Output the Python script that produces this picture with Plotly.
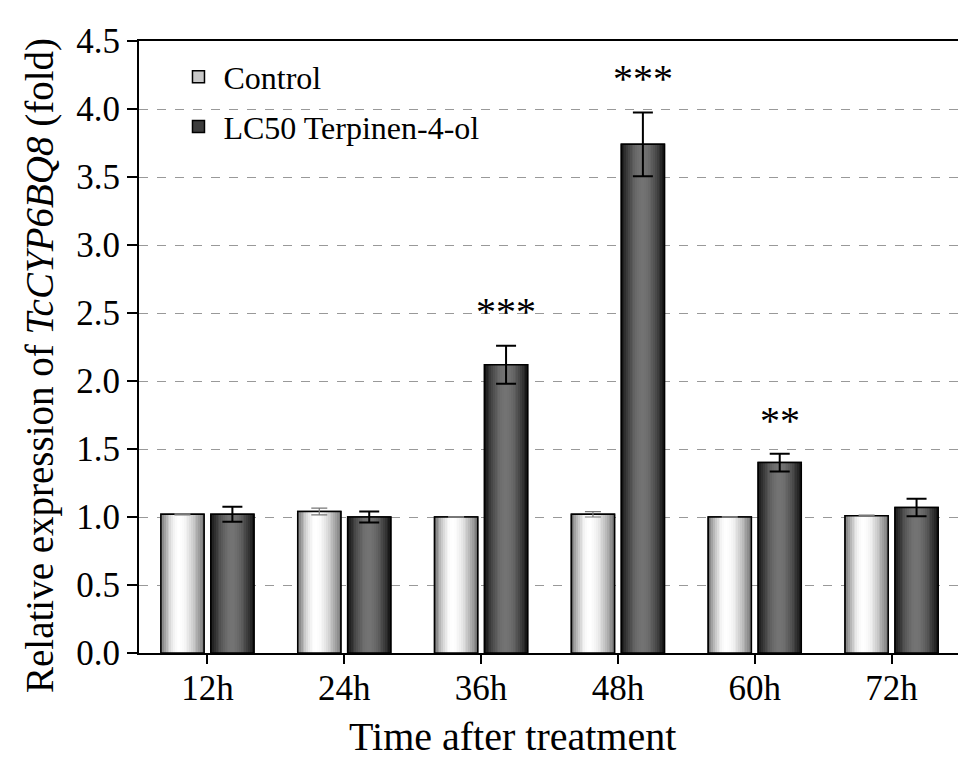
import math
import plotly.graph_objects as go

categories = ["12h", "24h", "36h", "48h", "60h", "72h"]
control_vals = [1.02, 1.04, 1.00, 1.02, 1.00, 1.01]
control_err = [0.005, 0.025, 0.003, 0.02, 0.003, 0.004]
treat_vals = [1.02, 1.00, 2.12, 3.74, 1.40, 1.07]
treat_err = [0.055, 0.04, 0.14, 0.235, 0.065, 0.065]
stars = ["", "", "***", "***", "**", ""]
y_ticks = [0.0, 0.5, 1.0, 1.5, 2.0, 2.5, 3.0, 3.5, 4.0, 4.5]

FONT = "Liberation Serif, Times New Roman, serif"
BAR_W = 0.315
OFF_C = -0.34
OFF_T = 0.025
N = 24

def grad(t, edge_l, peak, edge_r, p=0.42):
    if t <= p:
        s = t / p
        v = edge_l + (peak - edge_l) * math.sin(s * math.pi / 2)
    else:
        s = (t - p) / (1 - p)
        v = peak + (edge_r - peak) * (1 - math.cos(s * math.pi / 2))
    v = int(round(max(0, min(255, v))))
    return f"rgb({v},{v},{v})"

fig = go.Figure()

fig.add_trace(go.Bar(x=categories, y=control_vals, width=BAR_W, offset=OFF_C,
                     marker=dict(color="rgb(200,200,200)", line=dict(color="black", width=1.5)),
                     name="Control", showlegend=True, legendgroup="c"))
fig.add_trace(go.Bar(x=categories, y=treat_vals, width=BAR_W, offset=OFF_T,
                     marker=dict(color="rgb(60,60,60)", line=dict(color="black", width=1.5)),
                     name="LC50 Terpinen-4-ol", showlegend=True, legendgroup="t"))

sw = BAR_W / N
for i in range(N):
    t = (i + 0.5) / N
    fig.add_trace(go.Bar(x=categories, y=control_vals, width=sw * 1.08, offset=OFF_C + i * sw,
                         marker=dict(color=grad(t, 105, 255, 120), line=dict(width=0)),
                         showlegend=False, hoverinfo="skip"))
    fig.add_trace(go.Bar(x=categories, y=treat_vals, width=sw * 1.08, offset=OFF_T + i * sw,
                         marker=dict(color=grad(t, 15, 115, 20, p=0.5), line=dict(width=0)),
                         showlegend=False, hoverinfo="skip"))

fig.add_trace(go.Bar(x=categories, y=control_vals, width=BAR_W, offset=OFF_C,
                     marker=dict(color="rgba(0,0,0,0)", line=dict(color="black", width=1.5)),
                     error_y=dict(type="data", array=control_err, color="#777777", thickness=1.2, width=8),
                     showlegend=False, hoverinfo="skip"))
fig.add_trace(go.Bar(x=categories, y=treat_vals, width=BAR_W, offset=OFF_T,
                     marker=dict(color="rgba(0,0,0,0)", line=dict(color="black", width=1.5)),
                     error_y=dict(type="data", array=treat_err, color="black", thickness=2, width=10),
                     showlegend=False, hoverinfo="skip"))

for c, s, v, e in zip(categories, stars, treat_vals, treat_err):
    if s:
        fig.add_annotation(x=c, y=v + e + 0.27, text=s, showarrow=False, xref="x", yref="y",
                           xshift=(OFF_T + BAR_W / 2) * 137, yshift=-3,
                           font=dict(family=FONT, size=40, color="black"), yanchor="middle")

# axis titles as annotations (paper coords relative to plot area 821x612)
fig.add_annotation(text="Time after treatment", xref="paper", yref="paper",
                   x=0.4555, y=-0.136, xanchor="center", yanchor="middle", showarrow=False,
                   font=dict(family=FONT, size=40, color="black"))
fig.add_annotation(text="Relative expression of <i>TcCYP6BQ8</i> (fold)", xref="paper", yref="paper",
                   x=-0.1206, y=0.4706, xanchor="center", yanchor="middle", showarrow=False,
                   textangle=-90, font=dict(family=FONT, size=39, color="black"))

fig.update_layout(
    width=958, height=751,
    margin=dict(l=131, r=6, t=33, b=106),
    barmode="overlay",
    plot_bgcolor="white", paper_bgcolor="white",
    font=dict(family=FONT, color="black"),
    legend=dict(x=0.042, y=0.986, xanchor="left", yanchor="top",
                bgcolor="rgba(0,0,0,0)", font=dict(family=FONT, size=32),
                tracegroupgap=5, itemwidth=40, traceorder="grouped"),
    xaxis=dict(range=[-0.5, 5.5], showline=True, linecolor="black", linewidth=2, mirror=True,
               ticks="outside", ticklen=9, tickwidth=2, tickcolor="black",
               tickfont=dict(family=FONT, size=35), automargin=False, ticklabelstandoff=-6,
               showgrid=False),
    yaxis=dict(range=[0, 4.5], tickvals=y_ticks, ticktext=[f"{v:.1f}" for v in y_ticks],
               showline=True, linecolor="black", linewidth=2, mirror=True,
               ticks="outside", ticklen=10, tickwidth=2, tickcolor="black",
               tickfont=dict(family=FONT, size=35), automargin=False,
               showgrid=True, gridcolor="#999999", griddash="dash", gridwidth=1,
               zeroline=False),
)

fig.write_html("out.html")
